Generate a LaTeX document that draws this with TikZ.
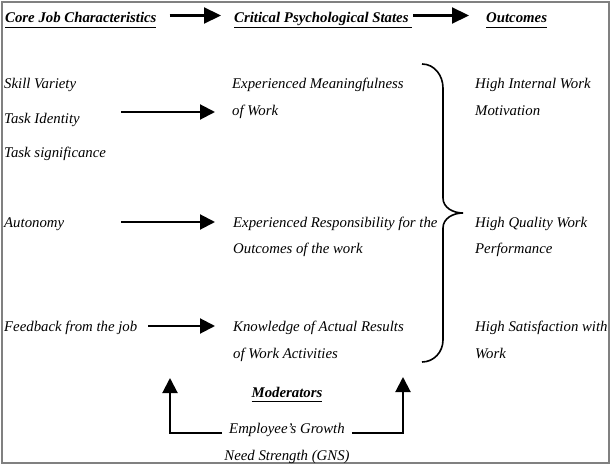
\documentclass[tikz,border=0pt]{standalone}
\usepackage{fontspec}
\setmainfont{Liberation Serif}
\usetikzlibrary{arrows.meta}
\newcommand{\hdtext}[1]{\underline{\textbf{\vphantom{y}#1}}}
\begin{document}
\begin{tikzpicture}[x=1pt,y=-1pt,
  every node/.style={inner sep=0pt,font=\itshape\fontsize{14.8}{27}\selectfont},
  txt/.style={anchor=base west,align=left},
  arr/.style={line width=2pt,-{Triangle[length=15pt,width=15pt]}},
  harr/.style={line width=2.2pt,-{Triangle[length=17pt,width=16pt]}}]
 \useasboundingbox (0,0) rectangle (613,465);
 \draw[gray,line width=1.5pt] (2,2) rectangle (609,463);
 % headings
 \node[txt] (cjc) at (5,22.5) {\hdtext{Core Job Characteristics}};
 \node[txt] (cps) at (234,22.5) {\hdtext{Critical Psychological States\ }};
 \node[txt] (out) at (486,22.5) {\hdtext{Outcomes}};
 \draw[harr,shorten <=13pt,shorten >=13pt]
  ([yshift=7pt]cjc.base east) -- ([yshift=7pt]cps.base west);
 \draw[harr,shorten <=1pt,shorten >=17pt]
  ([yshift=7pt]cps.base east) -- ([yshift=7pt]out.base west);
 % job characteristics
 \node[txt] (sv) at (4,89) {Skill Variety};
 \node[txt] (ti) at (4,124) {Task Identity};
 \node[txt] (ts) at (4,158) {Task significance};
 \node[txt] (au) at (4,227) {Autonomy};
 \node[txt] (fb) at (4,331) {Feedback from the job};
 % psychological states (base = last line)
 \node[txt] (em) at (232,116) {Experienced Meaningfulness\\of Work};
 \node[txt] (er) at (233,254) {Experienced Responsibility for the\\Outcomes of the work};
 \node[txt] (kr) at (233,358) {Knowledge of Actual Results\\of Work Activities};
 % outcomes
 \node[txt] (hm) at (475,116) {High Internal Work\\Motivation};
 \node[txt] (hq) at (475,254) {High Quality Work\\Performance};
 \node[txt] (hs) at (475,358) {High Satisfaction with\\Work};
 % arrows
 \coordinate (a1) at (121,112);
 \coordinate (a2) at (121,222);
 \coordinate (a3) at (148,326);
 \draw[arr,shorten >=17pt] (a1) -- (a1 -| em.west);
 \draw[arr,shorten >=18pt] (a2) -- (a2 -| er.west);
 \draw[arr,shorten >=18pt] (a3) -- (a3 -| kr.west);
 % brace
 \draw[line width=1.6pt] (422,64) to[out=0,in=90] (443,88) -- (443,198)
  to[out=-90,in=180] (463,213) to[out=180,in=90] (443,228) -- (443,340)
  to[out=-90,in=0] (422,362);
 % moderators
 \node[anchor=base] (mod) at (287,397) {\hdtext{Moderators}};
 \node[anchor=base] (emp) at (287,433) {Employee’s Growth};
 \node[anchor=base] (gns) at (287,460) {Need Strength (GNS)};
 \coordinate (ml) at (170,378);
 \coordinate (mr) at (403,377);
 \draw[arr] ([xshift=-7pt]emp.base west) -| (ml);
 \draw[arr] ([xshift=7pt]emp.base east) -| (mr);
\end{tikzpicture}
\end{document}
